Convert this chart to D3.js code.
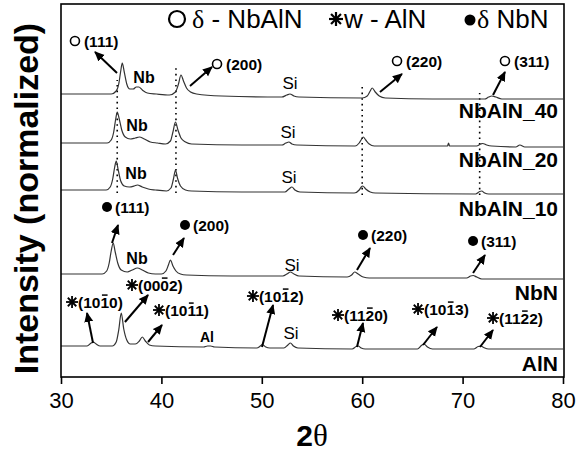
<!DOCTYPE html>
<html>
<head>
<meta charset="utf-8">
<script src="https://cdn.jsdelivr.net/npm/d3@7/dist/d3.min.js"></script>
<style>
  body { margin: 0; background: #fff; }
  svg { display: block; font-family: "Liberation Sans", Arial, sans-serif; }
</style>
</head>
<body>
<div id="chart"></div>
<script>
// 2theta tick labels
const thetaTicks = [30, 40, 50, 60, 70, 80];

// stacked XRD traces, [2theta, normalized intensity + offset]
const nbaln40 = [[30,283],[33,283],[35.0,283],[35.5,286],[35.75,293],[35.95,306],[36.1,314],[36.3,305],[36.55,293],[36.85,288],[37.2,288],[37.5,290],[37.75,290],[38.1,287],[38.6,284],[39.5,283],[40.8,282],[41.4,285],[41.7,293],[41.95,302],[42.2,296],[42.5,289],[42.9,285],[43.5,283],[46,281],[52.0,280],[52.5,282],[52.8,283],[53.2,281],[53.7,280],[60.0,279],[60.5,281],[60.8,286],[61.0,289],[61.3,285],[61.7,281],[62.3,279],[67,278],[72.2,278],[72.6,280],[72.9,281],[73.3,280],[73.9,278],[80,278]];
const nbaln20 = [[30,234],[34.6,234],[35.0,237],[35.25,245],[35.45,258],[35.6,265],[35.8,258],[36.05,247],[36.4,240],[36.9,238],[37.4,239],[37.8,240],[38.3,238],[38.9,235],[39.6,234],[40.4,233],[40.9,236],[41.15,245],[41.4,255],[41.65,247],[41.95,239],[42.4,235],[43.0,233],[48,232],[52.0,232],[52.4,234],[52.7,235],[53.0,233],[53.5,232],[59.3,231],[59.7,234],[59.95,238],[60.1,240],[60.35,237],[60.7,233],[61.2,231],[68.5,231],[68.6,234],[68.7,231],[71.4,231],[71.8,233],[72.0,233.5],[72.4,232],[72.9,231],[75.3,230],[75.7,232],[76.2,230],[80,230]];
const nbaln10 = [[30,187],[34.5,187],[34.9,190],[35.15,198],[35.35,210],[35.5,216],[35.7,207],[35.95,196],[36.3,191],[36.8,190],[37.3,191],[37.6,192],[38.1,190],[38.7,188],[39.4,187],[40.5,186],[40.95,189],[41.2,198],[41.4,207],[41.6,199],[41.9,191],[42.4,187],[43.0,186],[48,185],[52.3,185],[52.7,188],[53.0,190],[53.3,187],[53.8,185],[59.2,184],[59.7,187],[59.9,190],[60.05,191],[60.35,188],[60.8,185],[61.3,184],[71.3,183],[71.7,185.5],[71.9,186],[72.2,184],[72.6,183],[80,183]];
const nbn = [[30,103],[34.1,103],[34.55,106],[34.8,114],[35.0,126],[35.2,134],[35.4,125],[35.65,114],[36.0,107],[36.6,105],[37.1,107],[37.6,109],[38.1,107],[38.7,104],[39.4,103],[40.0,103],[40.45,106],[40.7,112],[40.9,117],[41.15,111],[41.45,106],[41.9,103],[42.5,102],[47,101],[52.1,101],[52.5,103],[52.85,105],[53.2,103],[53.7,101],[58.5,100],[58.95,102],[59.25,105],[59.6,103],[60.1,100],[60.7,99],[70.4,99],[70.8,101],[71.05,101.5],[71.4,100],[71.9,98],[80,98]];
const aln = [[30,31],[32.6,31],[33.0,34],[33.2,35],[33.5,33],[33.9,31],[35.1,31],[35.5,35],[35.75,47],[36.0,64],[36.25,48],[36.55,37],[36.9,33],[37.4,33],[37.8,36],[38.1,40],[38.4,36],[38.8,32],[39.4,31],[44.2,30],[44.6,31],[44.9,31],[45.3,30],[49.5,29],[49.85,31],[50.05,32.5],[50.4,30],[50.8,29],[52.2,29],[52.6,32],[52.85,34],[53.15,31],[53.6,29],[59.0,28],[59.4,30.5],[59.6,31],[59.9,29],[60.3,28],[65.5,28],[65.9,31.5],[66.15,33],[66.5,30],[67.0,28],[71.1,28],[71.55,30.5],[71.8,31],[72.1,29.5],[72.6,28],[80,28]];

const seriesNames = ["NbAlN_40", "NbAlN_20", "NbAlN_10", "NbN", "AlN"];
const seriesData = [nbaln40, nbaln20, nbaln10, nbn, aln];
const seriesLabelLevel = [259, 210, 161, 77, 6];

// dotted guide lines: [2theta, from, to]
const guideLines = [[35.6, 184, 297], [41.45, 184, 312], [60.0, 182, 294], [71.7, 182, 284]];

// peak annotations: symbol, label, overbar char index, label anchor, arrow from/to
const peakMarks = [
    {sym: "o", text: "(111)", at: [31.39, 336], from: [35.58, 304], to: [33.39, 325]},
    {sym: "o", text: "(200)", at: [45.54, 313], from: [42.85, 291], to: [45.04, 310]},
    {sym: "o", text: "(220)", at: [63.47, 316], from: [61.77, 285], to: [63.96, 303]},
    {sym: "o", text: "(311)", at: [74.22, 316], from: [73.03, 282], to: [74.22, 305]},
    {sym: "dot", text: "(111)", at: [34.58, 170], from: [35.08, 134], to: [35.68, 152]},
    {sym: "dot", text: "(200)", at: [42.35, 152], from: [41.16, 122], to: [42.25, 139]},
    {sym: "dot", text: "(220)", at: [60.08, 142], from: [59.48, 107], to: [60.78, 129]},
    {sym: "dot", text: "(311)", at: [71.04, 136], from: [71.04, 104], to: [72.23, 122]},
    {sym: "star", text: "(1010)", bar: 3, at: [31.10, 75], from: [33.19, 34], to: [32.59, 64]},
    {sym: "star", text: "(0002)", bar: 3, at: [37.07, 92], from: [36.37, 55], to: [38.67, 82]},
    {sym: "star", text: "(1011)", bar: 3, at: [39.76, 67], from: [38.67, 35], to: [40.06, 52]},
    {sym: "star", text: "(1012)", bar: 3, at: [49.12, 81], from: [50.02, 30], to: [51.12, 72]},
    {sym: "star", text: "(1120)", bar: 3, at: [57.59, 62], from: [59.48, 30], to: [60.08, 54]},
    {sym: "star", text: "(1013)", bar: 3, at: [65.56, 68], from: [66.06, 32], to: [67.45, 50]},
    {sym: "star", text: "(1122)", bar: 3, at: [73.03, 59], from: [71.73, 30], to: [73.03, 47]}
];

// small phase labels near the peaks: text, 2theta, level, bold
const phaseLabels = [
    ["Nb", 38.27, 300, true], ["Si", 52.81, 294, false],
    ["Nb", 37.57, 252, true], ["Si", 52.61, 245, false],
    ["Nb", 37.47, 204, true], ["Si", 52.71, 200, false],
    ["Nb", 37.57, 119, true], ["Si", 53.01, 112, false],
    ["Al", 44.54, 40, true], ["Si", 52.91, 44, false]
];

let margin = {top: 4, right: 24, bottom: 77, left: 61},
    width = 587, height = 454;

let svg = d3.select("#chart").append("svg")
    .attr("width", width)
    .attr("height", height);

let x = d3.scaleLinear().domain([30, 80]).range([margin.left, width - margin.right]);
let y = d3.scaleLinear().domain([0, 373]).range([height - margin.bottom, margin.top]);

// arrow head
svg.append("defs").append("marker")
    .attr("id", "head")
    .attr("markerUnits", "userSpaceOnUse")
    .attr("viewBox", "0 -5 10 10")
    .attr("refX", 9).attr("refY", 0)
    .attr("markerWidth", 10).attr("markerHeight", 10)
    .attr("orient", "auto")
    .append("path")
    .attr("d", "M0,-4.5L10,0L0,4.5Z")
    .attr("fill", "#000");

function star(g, cx, cy, r, w) {
    for (let a = 0; a < 4; a++) {
        let t = a * Math.PI / 4;
        g.append("line")
            .attr("x1", cx - r * Math.cos(t)).attr("y1", cy - r * Math.sin(t))
            .attr("x2", cx + r * Math.cos(t)).attr("y2", cy + r * Math.sin(t))
            .attr("stroke", "#000").attr("stroke-width", w);
    }
}

// dotted guides
svg.append("g").selectAll("line")
    .data(guideLines)
    .join("line")
    .attr("x1", d => x(d[0])).attr("x2", d => x(d[0]))
    .attr("y1", d => y(d[1])).attr("y2", d => y(d[2]))
    .attr("stroke", "#000")
    .attr("stroke-width", 1.6)
    .attr("stroke-dasharray", "1.6,4");

// traces
let line = d3.line()
    .x(d => x(d[0]))
    .y(d => y(d[1]))
    .curve(d3.curveMonotoneX);

svg.append("g").selectAll("path")
    .data(seriesData)
    .join("path")
    .attr("d", line)
    .attr("fill", "none")
    .attr("stroke", "#333")
    .attr("stroke-width", 1.2);

// series names at the right
svg.append("g").selectAll("text")
    .data(seriesNames)
    .join("text")
    .attr("x", x(80) - 5)
    .attr("y", (d, i) => y(seriesLabelLevel[i]))
    .attr("text-anchor", "end")
    .attr("font-weight", "bold")
    .attr("font-size", 21)
    .text(d => d);

// phase labels
svg.append("g").selectAll("text")
    .data(phaseLabels)
    .join("text")
    .attr("x", d => x(d[1]))
    .attr("y", d => y(d[2]))
    .attr("dy", "0.36em")
    .attr("text-anchor", "middle")
    .attr("font-weight", d => d[3] ? "bold" : "normal")
    .attr("font-size", d => d[0] === "Al" ? 14 : (d[3] ? 16 : 17))
    .text(d => d[0]);

// peak annotations
let ann = svg.append("g");
peakMarks.forEach(function (p) {
    let sx = x(p.at[0]), sy = y(p.at[1]);
    let off = 9;
    if (p.sym === "o") {
        ann.append("circle").attr("cx", sx).attr("cy", sy).attr("r", 4.5)
            .attr("fill", "none").attr("stroke", "#000").attr("stroke-width", 1.6);
    } else if (p.sym === "dot") {
        ann.append("circle").attr("cx", sx).attr("cy", sy).attr("r", 5).attr("fill", "#000");
        off = 8;
    } else {
        star(ann, sx, sy, 6, 1.8);
        off = 6;
    }
    let t = ann.append("text")
        .attr("x", sx + off).attr("y", sy)
        .attr("dy", "0.36em")
        .attr("font-weight", "bold")
        .attr("font-size", 15.5)
        .text(p.text);
    if (p.bar != null) {
        let b = t.node().getExtentOfChar(p.bar);
        ann.append("line")
            .attr("x1", b.x + 1.5).attr("x2", b.x + b.width - 1.5)
            .attr("y1", b.y + 1.5).attr("y2", b.y + 1.5)
            .attr("stroke", "#000").attr("stroke-width", 1.5);
    }
    ann.append("line")
        .attr("x1", x(p.from[0])).attr("y1", y(p.from[1]))
        .attr("x2", x(p.to[0])).attr("y2", y(p.to[1]))
        .attr("stroke", "#000").attr("stroke-width", 2)
        .attr("marker-end", "url(#head)");
});

// frame
svg.append("rect")
    .attr("x", x(30)).attr("y", y(373))
    .attr("width", x(80) - x(30) + 1).attr("height", y(0) - y(373))
    .attr("fill", "none").attr("stroke", "#000").attr("stroke-width", 1.6);

// x axis
let xAxis = svg.append("g")
    .attr("transform", "translate(0," + y(0) + ")")
    .call(d3.axisBottom(x).tickValues(thetaTicks).tickSize(7).tickPadding(8).tickFormat(d3.format("d")));
xAxis.select(".domain").remove();
xAxis.selectAll(".tick line").attr("stroke", "#000").attr("stroke-width", 1.6);
xAxis.selectAll("text")
    .attr("font-family", "Liberation Sans, Arial, sans-serif")
    .attr("font-size", 22).attr("fill", "#000");

// axis titles
svg.append("text")
    .attr("x", (x(30) + x(80)) / 2).attr("y", 446)
    .attr("text-anchor", "middle")
    .attr("font-size", 30)
    .call(t => {
        t.append("tspan").attr("font-weight", "bold").text("2");
        t.append("tspan").attr("font-family", "Liberation Serif, serif").attr("font-size", 31).text("θ");
    });

svg.append("text")
    .attr("transform", "translate(38," + ((y(0) + y(373)) / 2 + 8) + ") rotate(-90)")
    .attr("text-anchor", "middle")
    .attr("font-weight", "bold")
    .attr("font-size", 34)
    .text("Intensity (normalized)");

// legend
let leg = svg.append("g").attr("font-size", 26);
leg.append("circle").attr("cx", 177).attr("cy", 19).attr("r", 8)
    .attr("fill", "none").attr("stroke", "#000").attr("stroke-width", 2.2);
leg.append("text").attr("x", 192).attr("y", 28)
    .call(t => {
        t.append("tspan").attr("font-family", "Liberation Serif, serif").text("δ");
        t.append("tspan").text(" - NbAlN");
    });
star(leg, 336, 19, 7, 2.2);
leg.append("text").attr("x", 344).attr("y", 28).text("w - AlN");
leg.append("circle").attr("cx", 470).attr("cy", 20).attr("r", 5.5).attr("fill", "#000");
leg.append("text").attr("x", 477).attr("y", 28)
    .call(t => {
        t.append("tspan").attr("font-family", "Liberation Serif, serif").text("δ");
        t.append("tspan").text(" NbN");
    });
</script>
</body>
</html>
